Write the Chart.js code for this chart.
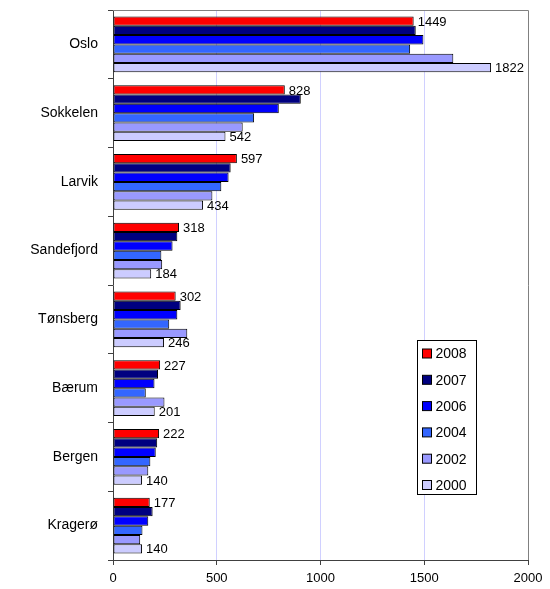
<!DOCTYPE html>
<html>
<head>
<meta charset="utf-8">
<script src="https://cdn.jsdelivr.net/npm/chart.js@4"></script>
<style>
  html, body { margin: 0; padding: 0; background: #fff; }
  #wrap { width: 550px; height: 589px; }
</style>
</head>
<body>
<div id="wrap"><canvas id="myChart" width="550" height="589"></canvas></div>
<script>
// Kommuner (y-akse)
const cities = ["Oslo", "Sokkelen", "Larvik", "Sandefjord", "Tønsberg", "Bærum", "Bergen", "Kragerø"];
const years = ["2008", "2007", "2006", "2004", "2002", "2000"];
const xTicks = [0, 500, 1000, 1500, 2000];

// verdier per år, lest av bildet
const v2008 = [1449, 828, 597, 318, 302, 227, 222, 177];
const v2007 = [1459, 905, 567, 310, 326, 217, 213, 191];
const v2006 = [1496, 799, 557, 287, 310, 200, 206, 170];
const v2004 = [1432, 680, 522, 233, 271, 158, 180, 142];
const v2002 = [1640, 625, 479, 237, 358, 248, 170, 131];
const v2000 = [1822, 542, 434, 184, 246, 201, 140, 140];

const colors = ["#ff0000", "#000080", "#0000ff", "#3366ff", "#9999ff", "#ccccff"];
const series = [v2008, v2007, v2006, v2004, v2002, v2000];

const ctx = document.getElementById("myChart").getContext("2d");
const FONT = "'Liberation Sans', Arial, sans-serif";

// etiketter kun for 2008 og 2000
const valueLabels = {
  id: "valueLabels",
  afterDatasetsDraw(chart) {
    const c = chart.ctx;
    c.save();
    c.font = "13px " + FONT;
    c.fillStyle = "#000";
    c.textBaseline = "middle";
    c.textAlign = "left";
    [0, 5].forEach((di) => {
      chart.getDatasetMeta(di).data.forEach((bar, i) => {
        c.fillText(String(chart.data.datasets[di].data[i]), bar.x + 4, bar.y + 1);
      });
    });
    c.restore();
  },
};

// ramme rundt plottet + egen legend
const frameAndLegend = {
  id: "frameAndLegend",
  afterDraw(chart) {
    const c = chart.ctx;
    const a = chart.chartArea;
    c.save();
    c.strokeStyle = "#808080";
    c.lineWidth = 1;
    c.beginPath();
    c.moveTo(a.left, Math.round(a.top) + 0.5);
    c.lineTo(Math.round(a.right) + 0.5, Math.round(a.top) + 0.5);
    c.lineTo(Math.round(a.right) + 0.5, a.bottom);
    c.stroke();

    // legend
    const lx = 417.5, ly = 340.5, lw = 59, lh = 154;
    c.fillStyle = "#fff";
    c.fillRect(lx, ly, lw, lh);
    c.strokeStyle = "#000";
    c.strokeRect(lx, ly, lw, lh);
    c.font = "14px " + FONT;
    c.textBaseline = "middle";
    chart.data.datasets.forEach((ds, i) => {
      const cy = ly + 13 + i * 26.3;
      c.fillStyle = ds.backgroundColor;
      c.fillRect(lx + 5, cy - 4.5, 9, 9);
      c.strokeRect(lx + 5, cy - 4.5, 9, 9);
      c.fillStyle = "#000";
      c.fillText(ds.label, lx + 18, cy + 1);
    });
    c.restore();
  },
};

const data = {
  labels: cities,
  datasets: years.map((y, i) => ({
    label: y,
    data: series[i],
    backgroundColor: colors[i],
    borderColor: "#000",
    borderWidth: 1,
    borderSkipped: false,
    categoryPercentage: 0.81,
    barPercentage: 1.0,
  })),
};

const config = {
  type: "bar",
  data: data,
  options: {
    indexAxis: "y",
    responsive: false,
    animation: false,
    layout: { padding: { top: 10, right: 22, left: 0, bottom: 0 } },
    plugins: {
      legend: { display: false },
      tooltip: { enabled: false },
    },
    scales: {
      x: {
        min: 0,
        max: 2000,
        afterBuildTicks: (s) => { s.ticks = xTicks.map((v) => ({ value: v })); },
        ticks: {
          color: "#000",
          font: { family: FONT, size: 13 },
          padding: 6,
          maxRotation: 0,
          callback: (v) => String(v),
        },
        grid: {
          color: (c) => (c.tick && (c.tick.value === 0 || c.tick.value === 2000) ? "rgba(0,0,0,0)" : "#d0d0ff"),
          tickColor: "#404040",
          tickLength: 5,
        },
        border: { color: "#404040", width: 1 },
        afterFit: (s) => { s.height = 29; },
      },
      y: {
        ticks: { color: "#000", font: { family: FONT, size: 14 }, padding: 10 },
        grid: { drawOnChartArea: false, offset: true, tickColor: "#404040", tickLength: 5 },
        border: { color: "#404040", width: 1 },
        afterFit: (s) => { s.width = 113; s.paddingTop = 0; s.paddingBottom = 0; },
      },
    },
  },
  plugins: [valueLabels, frameAndLegend],
};

const myChart = new Chart(ctx, config);
</script>
</body>
</html>
